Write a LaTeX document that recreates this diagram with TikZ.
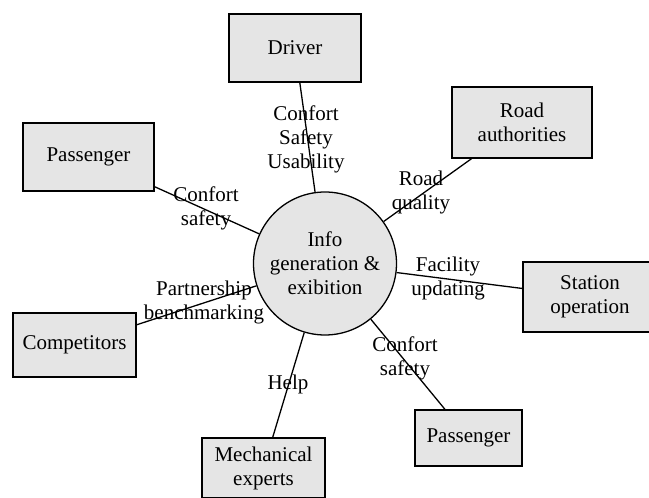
\documentclass[tikz,border=0pt]{standalone}
\usepackage{fontspec}
\setmainfont{Liberation Serif}

\begin{document}
\begin{tikzpicture}[x=1pt, y=1pt, line width=1.3pt,
  font=\fontsize{21}{24}\selectfont,
  box/.style={draw, fill=black!10, align=center, inner sep=0pt},
  hub/.style={draw, circle, fill=black!10, align=center, minimum size=143pt, inner sep=0pt},
  lbl/.style={align=center, inner sep=0pt}]
\clip (-325,-234.5) rectangle (324,263.5);
% Nodos
\node[hub] (info) at (0,0) {Info\\generation \&\\exibition};
\node[box, minimum width=132pt, minimum height=68pt] (driver) at (-30,215.5) {Driver};
\node[box, minimum width=140pt, minimum height=71pt] (road) at (197,141) {Road\\authorities};
\node[box, minimum width=131pt, minimum height=68pt] (pasA) at (-236.5,106.5) {Passenger};
\node[box, minimum width=123pt, minimum height=64pt] (comp) at (-250.5,-81.5) {Competitors};
\node[box, minimum width=123pt, minimum height=60pt] (mech) at (-61.5,-204.5) {Mechanical\\experts};
\node[box, minimum width=134pt, minimum height=70pt] (station) at (265,-33.5) {Station\\operation};
\node[box, minimum width=107pt, minimum height=56pt] (pasB) at (143.5,-174.5) {Passenger};
% Conexiones
\draw (driver) -- (info);
\draw (road) -- (info);
\draw (pasA) -- (info);
\draw (comp) -- (info);
\draw (mech) -- (info);
\draw (station) -- (info);
\draw (pasB) -- (info);
% Etiquetas
\node[lbl] (lDriver) at (-19,124) {Confort\\Safety\\Usability};
\node[lbl] (lRoad) at (96,71.5) {Road\\quality};
\node[lbl] (lPasA) at (-119,55) {Confort\\safety};
\node[lbl] (lComp) at (-121,-39) {Partnership\\benchmarking};
\node[lbl] (lMech) at (-37,-120.5) {Help};
\node[lbl] (lStation) at (123,-15) {Facility\\updating};
\node[lbl] (lPasB) at (80,-95) {Confort\\safety};
\end{tikzpicture}
\end{document}
